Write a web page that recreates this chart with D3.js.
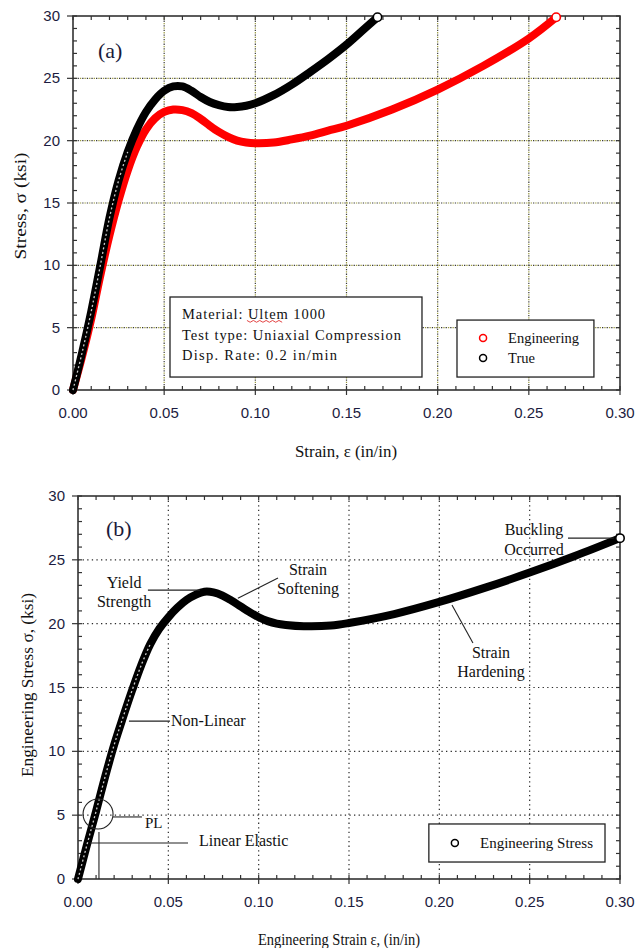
<!DOCTYPE html>
<html>
<head>
<meta charset="utf-8">
<script src="https://cdn.jsdelivr.net/npm/d3@7"></script>
<style>
  body { margin: 0; background: #fff; }
  svg { display: block; }
  .tick-label { font-family: "Liberation Sans", Arial, sans-serif; font-size: 15px; fill: #1c1c40; }
  .serif { font-family: "Liberation Serif", "Times New Roman", serif; fill: #111; }
</style>
</head>
<body>
<div id="chart"></div>
<script>
// panel (a): engineering and true stress-strain, Ultem 1000
var engStrainA  = [0, 0.005, 0.01, 0.015, 0.02, 0.025, 0.03, 0.035, 0.04, 0.045, 0.05, 0.055, 0.06, 0.065, 0.07, 0.075, 0.08, 0.085, 0.09, 0.095, 0.10, 0.11, 0.12, 0.13, 0.14, 0.15, 0.175, 0.20, 0.225, 0.25, 0.265];
var engStressA  = [0, 2.7, 5.7, 9.2, 12.4, 15.2, 17.6, 19.5, 20.9, 21.8, 22.3, 22.5, 22.45, 22.2, 21.75, 21.2, 20.7, 20.3, 20.0, 19.85, 19.8, 19.85, 20.1, 20.4, 20.8, 21.2, 22.5, 24.1, 26.0, 28.2, 29.9];
var trueStrainA = [0, 0.005, 0.01, 0.015, 0.02, 0.025, 0.03, 0.035, 0.04, 0.045, 0.05, 0.055, 0.06, 0.065, 0.07, 0.075, 0.08, 0.085, 0.09, 0.095, 0.10, 0.11, 0.12, 0.13, 0.14, 0.15, 0.16, 0.167];
var trueStressA = [0, 3.0, 6.3, 10.0, 13.8, 16.8, 19.1, 20.9, 22.3, 23.3, 24.0, 24.35, 24.35, 24.0, 23.5, 23.1, 22.85, 22.7, 22.7, 22.8, 23.0, 23.65, 24.5, 25.5, 26.55, 27.7, 29.0, 29.9];

// panel (b): engineering stress with annotated regions
var strainB = [0, 0.005, 0.01, 0.015, 0.02, 0.025, 0.03, 0.035, 0.04, 0.045, 0.05, 0.055, 0.06, 0.065, 0.07, 0.075, 0.08, 0.085, 0.09, 0.095, 0.10, 0.105, 0.11, 0.115, 0.125, 0.14, 0.15, 0.175, 0.20, 0.225, 0.25, 0.275, 0.30];
var stressB = [0, 2.7, 5.3, 8.0, 10.5, 12.7, 14.8, 16.75, 18.4, 19.6, 20.5, 21.25, 21.85, 22.25, 22.5, 22.45, 22.2, 21.8, 21.35, 20.9, 20.5, 20.2, 20.0, 19.9, 19.8, 19.85, 20.05, 20.75, 21.7, 22.8, 24.0, 25.3, 26.7];

var xTickValues = [0, 0.05, 0.10, 0.15, 0.20, 0.25, 0.30];
var yTickValues = [0, 5, 10, 15, 20, 25, 30];

var width = 636, height = 948;

var svg = d3.select("#chart").append("svg")
    .attr("width", width)
    .attr("height", height);

function zip(xs, ys) {
    return xs.map(function (d, i) { return [d, ys[i]]; });
}

function drawPanel(box, opts) {
    var x = d3.scaleLinear().domain([0, 0.30]).range([box.left, box.right]);
    var y = d3.scaleLinear().domain([0, 30]).range([box.bottom, box.top]);
    var g = svg.append("g");

    // dotted grid
    var gx = xTickValues.slice(1, -1), gy = yTickValues.slice(1, -1);
    opts.gridColors.forEach(function (c, k) {
        g.selectAll(null).data(gx).enter().append("line")
            .attr("x1", function (d) { return x(d); }).attr("x2", function (d) { return x(d); })
            .attr("y1", box.top).attr("y2", box.bottom)
            .attr("stroke", c).attr("stroke-width", 1.2)
            .attr("stroke-dasharray", "1.3,3.3").attr("stroke-dashoffset", k * 2.3);
        g.selectAll(null).data(gy).enter().append("line")
            .attr("y1", function (d) { return y(d); }).attr("y2", function (d) { return y(d); })
            .attr("x1", box.left).attr("x2", box.right)
            .attr("stroke", c).attr("stroke-width", 1.2)
            .attr("stroke-dasharray", "1.3,3.3").attr("stroke-dashoffset", k * 2.3);
    });

    // ticks: minor inward on all sides, major outward on left/bottom
    var minorX = d3.range(0, 0.3001, 0.01), minorY = d3.range(0, 30.01, 1);
    var t = g.append("g").attr("stroke", "#333").attr("stroke-width", 1.2);
    minorX.forEach(function (d) {
        t.append("line").attr("x1", x(d)).attr("x2", x(d)).attr("y1", box.bottom).attr("y2", box.bottom - 4);
        t.append("line").attr("x1", x(d)).attr("x2", x(d)).attr("y1", box.top).attr("y2", box.top + 4);
    });
    minorY.forEach(function (d) {
        t.append("line").attr("y1", y(d)).attr("y2", y(d)).attr("x1", box.left).attr("x2", box.left + 4);
        t.append("line").attr("y1", y(d)).attr("y2", y(d)).attr("x1", box.right).attr("x2", box.right - 4);
    });
    xTickValues.forEach(function (d) {
        t.append("line").attr("x1", x(d)).attr("x2", x(d)).attr("y1", box.bottom).attr("y2", box.bottom + 5);
    });
    yTickValues.forEach(function (d) {
        t.append("line").attr("y1", y(d)).attr("y2", y(d)).attr("x1", box.left).attr("x2", box.left - 6);
    });

    // frame
    g.append("rect")
        .attr("x", box.left).attr("y", box.top)
        .attr("width", box.right - box.left).attr("height", box.bottom - box.top)
        .attr("fill", "none").attr("stroke", "#333").attr("stroke-width", 1.6);

    // tick labels
    g.selectAll(null).data(xTickValues).enter().append("text")
        .attr("class", "tick-label")
        .attr("x", function (d) { return x(d); })
        .attr("y", box.bottom + 28)
        .attr("text-anchor", "middle")
        .text(function (d) { return d.toFixed(2); });
    g.selectAll(null).data(yTickValues).enter().append("text")
        .attr("class", "tick-label")
        .attr("x", box.left - 13)
        .attr("y", function (d) { return y(d) + 5; })
        .attr("text-anchor", "end")
        .text(function (d) { return d; });

    // axis titles
    g.append("text").attr("class", "serif")
        .attr("x", opts.xTitlePos[0]).attr("y", opts.xTitlePos[1])
        .attr("text-anchor", "middle").style("font-size", "16px")
        .attr("textLength", opts.xTitleLen).attr("lengthAdjust", "spacingAndGlyphs")
        .text(opts.xTitle);
    g.append("text").attr("class", "serif")
        .attr("transform", "translate(" + opts.yTitlePos[0] + "," + opts.yTitlePos[1] + ") rotate(-90)")
        .attr("text-anchor", "middle").style("font-size", "16px")
        .attr("textLength", opts.yTitleLen).attr("lengthAdjust", "spacingAndGlyphs")
        .text(opts.yTitle);

    return { x: x, y: y, g: g };
}

function drawCurve(p, pts, color, speckleMax) {
    var line = d3.line()
        .x(function (d) { return p.x(d[0]); })
        .y(function (d) { return p.y(d[1]); })
        .curve(d3.curveCatmullRom.alpha(0.5));
    p.g.append("path").attr("d", line(pts))
        .attr("fill", "none").attr("stroke", color)
        .attr("stroke-width", 8).attr("stroke-linecap", "round");
    if (speckleMax) {
        var rising = pts.slice(0, pts.findIndex(function (d) { return d[1] > speckleMax; }) + 1);
        p.g.append("path").attr("d", line(rising))
            .attr("fill", "none").attr("stroke", "#fff").attr("opacity", 0.8)
            .attr("stroke-width", 1.3).attr("stroke-dasharray", "2,2.5");
    }
    var last = pts[pts.length - 1];
    p.g.append("circle")
        .attr("cx", p.x(last[0])).attr("cy", p.y(last[1])).attr("r", 4.2)
        .attr("fill", "#fff").attr("stroke", color).attr("stroke-width", 1.6);
}

function label(p, s, v, str, size, anchor, len) {
    var t = p.g.append("text").attr("class", "serif")
        .attr("x", p.x(s)).attr("y", p.y(v))
        .attr("text-anchor", anchor || "start")
        .style("font-size", (size || 14) + "px")
        .text(str);
    if (len) t.attr("textLength", len).attr("lengthAdjust", "spacing");
    return t;
}

function leader(p, s1, v1, s2, v2) {
    p.g.append("line")
        .attr("x1", p.x(s1)).attr("y1", p.y(v1))
        .attr("x2", p.x(s2)).attr("y2", p.y(v2))
        .attr("stroke", "#222").attr("stroke-width", 1.1);
}

// ---- panel (a)
var pa = drawPanel({ left: 73, right: 620, top: 16, bottom: 390 }, {
    gridColors: ["#3a3a3a", "#9a9a3c"],
    xTitle: "Strain, \u03b5 (in/in)", xTitlePos: [346, 457], xTitleLen: 102,
    yTitle: "Stress, \u03c3 (ksi)", yTitlePos: [26, 206], yTitleLen: 107
});
drawCurve(pa, zip(engStrainA, engStressA), "#ff0000", null);
drawCurve(pa, zip(trueStrainA, trueStressA), "#000", 18);
label(pa, 0.0137, 26.6, "(a)", 22).style("fill", "#1a1a3a");

// material box
pa.g.append("rect")
    .attr("x", pa.x(0.0532)).attr("y", pa.y(7.46))
    .attr("width", pa.x(0.1914) - pa.x(0.0532)).attr("height", pa.y(1.04) - pa.y(7.46))
    .attr("fill", "#fff").attr("stroke", "#222").attr("stroke-width", 1.3);
label(pa, 0.0598, 5.70, "Material: Ultem 1000", 14.5, "start", 143);
label(pa, 0.0598, 4.01, "Test type: Uniaxial Compression", 14.5, "start", 219);
label(pa, 0.0598, 2.41, "Disp. Rate: 0.2 in/min", 14.5, "start", 155);
// spell-check squiggle under "Ultem"
var sq = d3.range(0, 12).map(function (i) {
    return [pa.x(0.0954) + i * 3.2, pa.y(5.53) + (i % 2 ? 1.2 : -0.6)];
});
pa.g.append("path").attr("d", d3.line()(sq))
    .attr("fill", "none").attr("stroke", "#e03030").attr("stroke-width", 0.9);

// legend (a)
pa.g.append("rect")
    .attr("x", pa.x(0.2106)).attr("y", pa.y(5.61))
    .attr("width", pa.x(0.2857) - pa.x(0.2106)).attr("height", pa.y(1.04) - pa.y(5.61))
    .attr("fill", "#fff").attr("stroke", "#222").attr("stroke-width", 1.3);
[["Engineering", "#ff0000", 4.17], ["True", "#000", 2.57]].forEach(function (d) {
    pa.g.append("circle").attr("cx", pa.x(0.2249)).attr("cy", pa.y(d[2])).attr("r", 3.5)
        .attr("fill", "#fff").attr("stroke", d[1]).attr("stroke-width", 1.5);
    label(pa, 0.2386, d[2] - 0.42, d[0], 14.5);
});

// ---- panel (b)
var pb = drawPanel({ left: 78, right: 620, top: 496, bottom: 879 }, {
    gridColors: ["#2a2a2a"],
    xTitle: "Engineering Strain \u03b5, (in/in)", xTitlePos: [339, 945], xTitleLen: 162,
    yTitle: "Engineering Stress \u03c3, (ksi)", yTitlePos: [33, 685], yTitleLen: 184
});
drawCurve(pb, zip(strainB, stressB), "#000", 18);
label(pb, 0.0155, 26.9, "(b)", 22).style("fill", "#1a1a3a");

label(pb, 0.0255, 22.8, "Yield", 16, "middle");
label(pb, 0.0255, 21.3, "Strength", 16, "middle");
leader(pb, 0.0387, 22.63, 0.0675, 22.63);

label(pb, 0.1273, 23.8, "Strain", 16, "middle");
label(pb, 0.1273, 22.3, "Softening", 16, "middle");
leader(pb, 0.0885, 22.0, 0.1107, 23.57);

label(pb, 0.2286, 17.3, "Strain", 16, "middle");
label(pb, 0.2286, 15.8, "Hardening", 16, "middle");
leader(pb, 0.207, 21.46, 0.2186, 18.48);

label(pb, 0.2524, 26.94, "Buckling", 16, "middle");
label(pb, 0.2524, 25.4, "Occurred", 16, "middle");
leader(pb, 0.2712, 26.7, 0.2966, 26.7);

// proportional limit
pb.g.append("circle").attr("cx", pb.x(0.0111)).attr("cy", pb.y(5.09)).attr("r", 15)
    .attr("fill", "none").attr("stroke", "#222").attr("stroke-width", 1.1);
leader(pb, 0.0194, 4.86, 0.0354, 4.86);
label(pb, 0.0371, 4.0, "PL", 15);
leader(pb, 0.0116, 3.68, 0.0116, 0);

leader(pb, 0.0066, 2.82, 0.0609, 2.82);
label(pb, 0.067, 2.58, "Linear Elastic", 16);

leader(pb, 0.0282, 12.37, 0.0509, 12.37);
label(pb, 0.0515, 11.98, "Non-Linear", 16);

// legend (b)
pb.g.append("rect")
    .attr("x", pb.x(0.1942)).attr("y", pb.y(4.31))
    .attr("width", pb.x(0.2917) - pb.x(0.1942)).attr("height", pb.y(1.33) - pb.y(4.31))
    .attr("fill", "#fff").attr("stroke", "#222").attr("stroke-width", 1.3);
pb.g.append("circle").attr("cx", pb.x(0.2086)).attr("cy", pb.y(2.82)).attr("r", 3.5)
    .attr("fill", "#fff").attr("stroke", "#000").attr("stroke-width", 1.5);
label(pb, 0.2225, 2.43, "Engineering Stress", 15, "start", 113);
</script>
</body>
</html>
